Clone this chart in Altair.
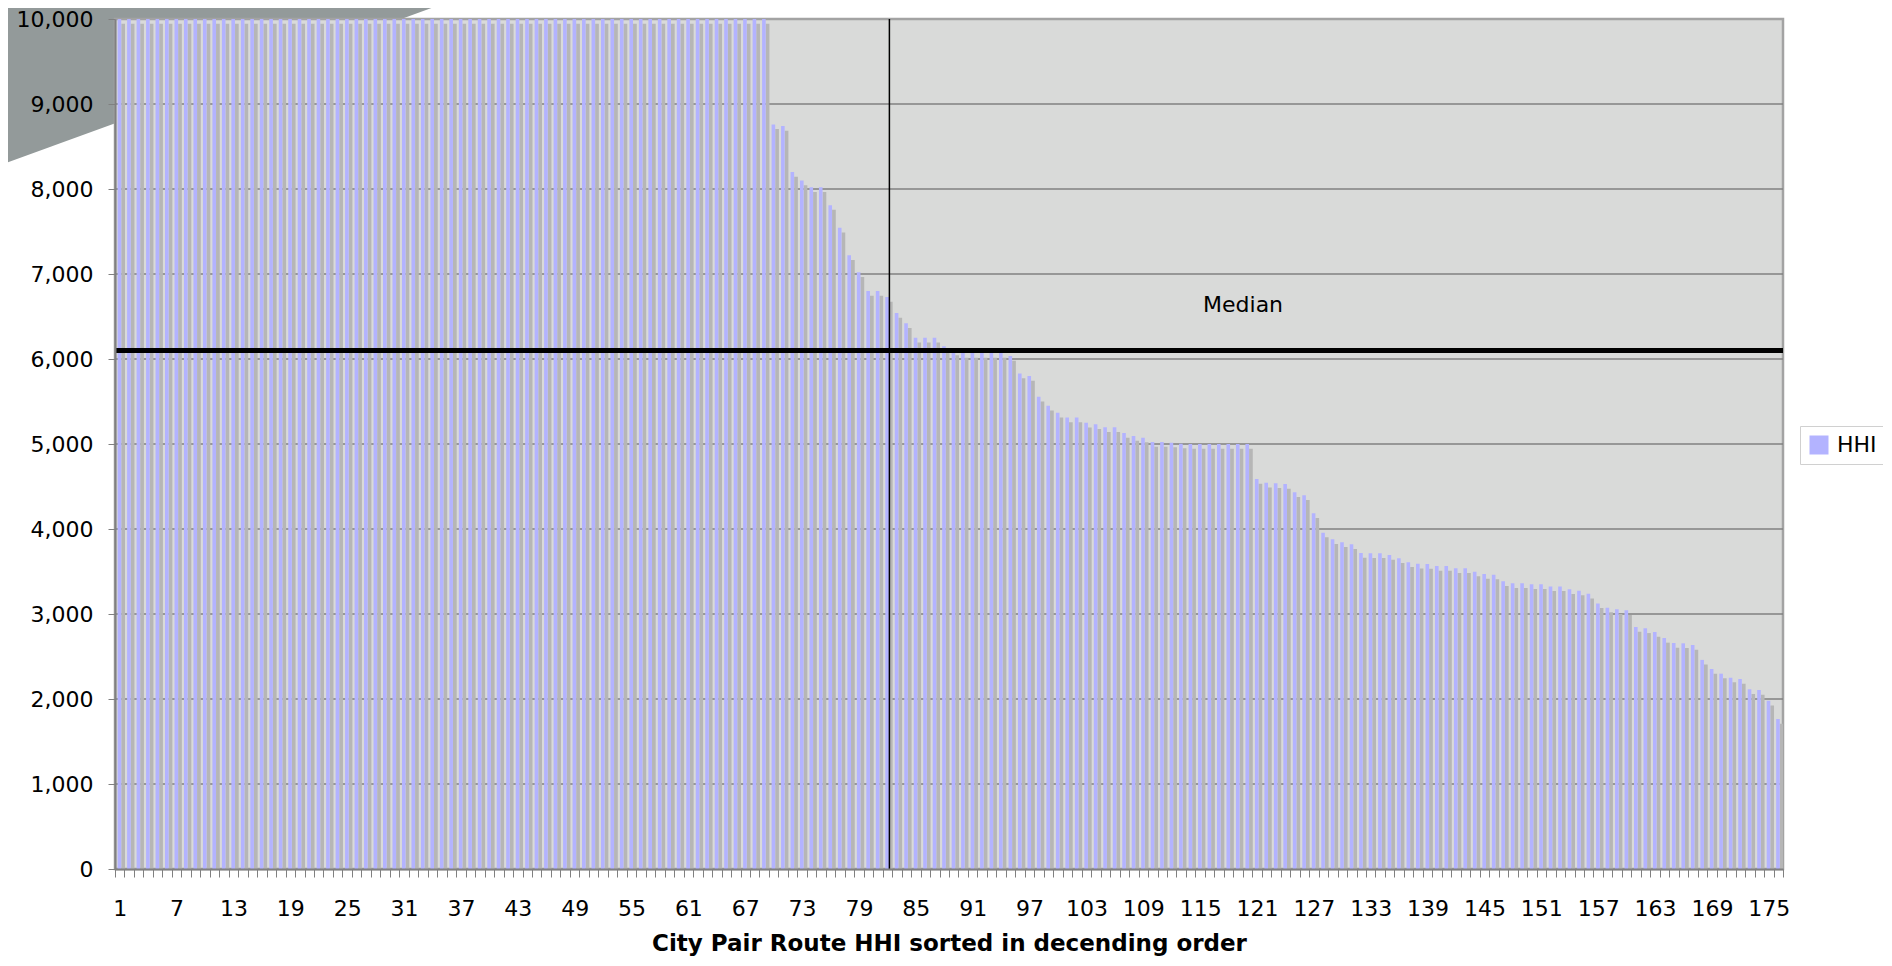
import altair as alt
import pandas as pd

# ---- data ----
ROUTE = list(range(1, 177))
HHI = [
    10000, 10000, 10000, 10000, 10000, 10000, 10000, 10000, 10000, 10000,
    10000, 10000, 10000, 10000, 10000, 10000, 10000, 10000, 10000, 10000,
    10000, 10000, 10000, 10000, 10000, 10000, 10000, 10000, 10000, 10000,
    10000, 10000, 10000, 10000, 10000, 10000, 10000, 10000, 10000, 10000,
    10000, 10000, 10000, 10000, 10000, 10000, 10000, 10000, 10000, 10000,
    10000, 10000, 10000, 10000, 10000, 10000, 10000, 10000, 10000, 10000,
    10000, 10000, 10000, 10000, 10000, 10000, 10000, 10000, 10000,
    8760, 8740, 8200, 8100, 8020, 8020, 7810, 7545, 7220, 7020,
    6800, 6800, 6730, 6540, 6420, 6250, 6250, 6250, 6150, 6100,
    6070, 6070, 6070, 6070, 6070, 6035, 5830, 5800, 5556, 5450,
    5367, 5312, 5312, 5250, 5233, 5196, 5196, 5129, 5094, 5075,
    5024, 5024, 5016, 5004, 5000, 5000, 5000, 5000, 5000, 5000,
    5000, 4588, 4545, 4537, 4529, 4431, 4396, 4184, 3957, 3878,
    3843, 3820, 3718, 3714, 3714, 3694, 3655, 3608, 3592, 3588,
    3565, 3565, 3537, 3537, 3498, 3471, 3463, 3384, 3361, 3361,
    3349, 3349, 3325, 3325, 3290, 3275, 3239, 3125, 3075, 3055,
    3043, 2847, 2831, 2788, 2718, 2659, 2655, 2635, 2460, 2353,
    2298, 2251, 2235, 2114, 2106, 1980, 1765,
]
SERIES = "HHI"
MEDIAN = 6100
MEDIAN_ROUTE = 82
LABEL_ROUTE = 119
Y_TICKS = [0, 1000, 2000, 3000, 4000, 5000, 6000, 7000, 8000, 9000, 10000]
X_TITLE = "City Pair Route HHI sorted in decending order"

W, H = 1668, 850
FONT = "DejaVu Sans"

df = pd.DataFrame({"route": ROUTE, "hhi": HHI, "series": SERIES})

xscale = alt.Scale(paddingInner=0, paddingOuter=0)
yscale = alt.Scale(domain=[0, 10000], nice=False)

x_axis = alt.Axis(
    title=X_TITLE, titleFont=FONT, titleFontSize=23, titleFontWeight="bold",
    titleColor="black", titlePadding=13,
    labelExpr="(datum.value - 1) % 6 == 0 ? datum.label : ''",
    labelAngle=0, labelFont=FONT, labelFontSize=22, labelColor="black",
    labelPadding=21, labelOverlap=False, tickBand="extent", tickSize=8,
    tickColor="#808080", tickWidth=1, domainColor="#808080", domainWidth=2,
    grid=False, zindex=1,
)
y_axis = alt.Axis(
    values=Y_TICKS, format=",d", title=None, labelFont=FONT, labelFontSize=22,
    labelColor="black", labelPadding=15, tickSize=7, tickColor="#808080",
    domainColor="#808080", domainWidth=2, grid=False, zindex=1,
)

x_enc = alt.X("route:O", scale=xscale, sort="ascending", axis=x_axis)
y_enc = alt.Y("hhi:Q", scale=yscale, axis=y_axis)

one = pd.DataFrame({"k": [0]})

# decorative grey wedge in the top-left corner (behind the plot area)
wedge = alt.Chart(one).mark_rule(
    stroke="#939a9a", strokeWidth=185, strokeCap="butt", clip=False
).encode(x=alt.value(598), y=alt.value(-212), x2=alt.value(-426), y2=alt.value(161))

plot_bg = alt.Chart(one).mark_rect(
    fill="#d9dad9", stroke="#a3a3a3", strokeWidth=2.5
).encode(x=alt.value(0), x2=alt.value(W), y=alt.value(0), y2=alt.value(H))

grid = alt.Chart(pd.DataFrame({"g": Y_TICKS[1:-1]})).mark_rule(
    color="#808080", strokeWidth=1.4
).encode(y=alt.Y("g:Q", scale=yscale, axis=y_axis))

shadow = alt.Chart(df).mark_bar(
    color="#b6b6b6", width=3.7, xOffset=3.4, yOffset=4.7, clip=True
).encode(x=x_enc, y=y_enc)

bars = alt.Chart(df).mark_bar(width=3.6, xOffset=-0.3).encode(
    x=x_enc,
    y=y_enc,
    color=alt.Color(
        "series:N",
        scale=alt.Scale(domain=[SERIES], range=["#b3b3ff"]),
        legend=alt.Legend(
            title=None, orient="none", legendX=1685, legendY=407,
            symbolType="square", symbolSize=361, symbolStrokeWidth=0,
            labelFont=FONT, labelFontSize=22, labelColor="black", labelOffset=7,
            padding=8, strokeColor="#d0d0d0", fillColor="white", cornerRadius=0,
        ),
    ),
)

median_line = alt.Chart(pd.DataFrame({"m": [MEDIAN]})).mark_rule(
    color="black", strokeWidth=5
).encode(y=alt.Y("m:Q", scale=yscale, axis=y_axis))

vline = alt.Chart(df).transform_filter(
    f"datum.route == {MEDIAN_ROUTE}"
).mark_rule(color="black", strokeWidth=1.5, xOffset=2).encode(x=x_enc)

median_text = alt.Chart(df).transform_filter(
    f"datum.route == {LABEL_ROUTE}"
).transform_calculate(m=str(MEDIAN)).mark_text(
    text="Median", font=FONT, fontSize=22, color="black", dx=5, dy=-46
).encode(x=x_enc, y=alt.Y("m:Q", scale=yscale, axis=y_axis))

chart = alt.layer(
    wedge, plot_bg, grid, shadow, bars, median_line, vline, median_text
).properties(
    width=W, height=H,
    autosize=alt.AutoSizeParams(type="none"),
    padding={"left": 107, "top": 11, "right": 100, "bottom": 89},
    background="white",
).configure_view(stroke=None)

chart.save("out.html", embed_options={"renderer": "svg", "actions": False})
